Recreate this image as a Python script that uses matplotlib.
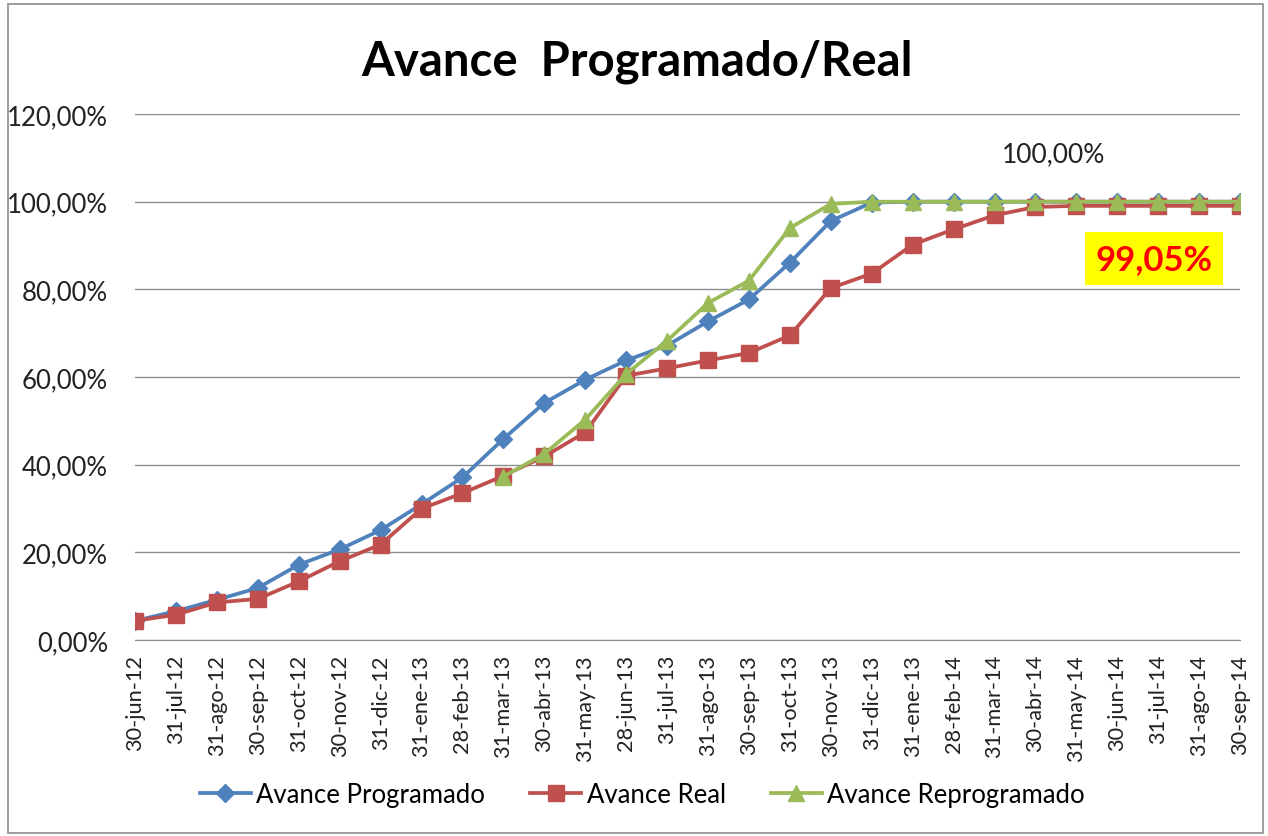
import numpy as np
import matplotlib
matplotlib.use("Agg")
import matplotlib.pyplot as plt
from matplotlib.patches import Rectangle
from matplotlib.ticker import FuncFormatter

fechas = ["30-jun-12", "31-jul-12", "31-ago-12", "30-sep-12", "31-oct-12", "30-nov-12",
          "31-dic-12", "31-ene-13", "28-feb-13", "31-mar-13", "30-abr-13", "31-may-13",
          "28-jun-13", "31-jul-13", "31-ago-13", "30-sep-13", "31-oct-13", "30-nov-13",
          "31-dic-13", "31-ene-13", "28-feb-14", "31-mar-14", "30-abr-14", "31-may-14",
          "30-jun-14", "31-jul-14", "31-ago-14", "30-sep-14"]

programado = [4.4, 6.6, 9.2, 11.9, 17.2, 20.7, 25.1, 31.0, 37.1, 45.9, 54.1, 59.4,
              63.8, 67.2, 72.7, 77.7, 86.1, 95.6, 99.8, 100, 100, 100, 100, 100,
              100, 100, 100, 100]
real = [4.4, 5.8, 8.6, 9.4, 13.4, 18.0, 21.8, 30.0, 33.5, 37.5, 41.9, 47.4,
        60.3, 62.0, 63.8, 65.5, 69.5, 80.3, 83.6, 90.2, 93.7, 96.9, 98.8, 99.05,
        99.05, 99.05, 99.05, 99.05]
# reprogramado empieza en 31-mar-13
reprog_inicio = 9
reprogramado = [37.3, 42.5, 50.3, 60.7, 68.3, 76.9, 82.0, 94.0, 99.5, 100, 100, 100,
                100, 100, 100, 100, 100, 100, 100]

azul = "#4F81BD"
rojo = "#C0504D"
verde = "#9BBB59"
fuente = "Lato"

fig = plt.figure(figsize=(12.68, 8.37), dpi=100)
ax = fig.add_axes([0.1065, 0.234, 0.8715, 0.6286])

x = np.arange(len(fechas))
ax.plot(x, np.array(programado) / 100, color=azul, lw=2.7, marker="D", ms=9,
        label="Avance Programado", zorder=3)
ax.plot(x, np.array(real) / 100, color=rojo, lw=2.7, marker="s", ms=11,
        label="Avance Real", zorder=4)
xr = x[reprog_inicio:]
ax.plot(xr, np.array(reprogramado) / 100, color=verde, lw=2.7, marker="^", ms=11,
        label="Avance Reprogramado", zorder=5)

ax.set_xlim(0, len(fechas) - 1)
ax.set_ylim(0, 1.2)
ax.set_yticks(np.arange(0, 1.21, 0.2))
ax.yaxis.set_major_formatter(FuncFormatter(lambda v, p: f"{v*100:.2f}%".replace(".", ",")))
ax.set_xticks(x)
ax.set_xticklabels(fechas, rotation=90, fontsize=15.7, family=fuente, color="#222222")
for t in ax.get_yticklabels():
    t.set_fontsize(18.5)
    t.set_family(fuente)
    t.set_color("#222222")
ax.tick_params(axis="x", length=0, pad=10)
ax.tick_params(axis="y", length=0, pad=19.5)
ax.grid(axis="y", color="#8c8c8c", lw=1)
ax.set_axisbelow(True)
for s in ["top", "right", "left"]:
    ax.spines[s].set_visible(False)
ax.spines["bottom"].set_color("#8c8c8c")

ax.text(22.45, 1.11, "100,00%", ha="center", va="center", fontsize=19,
        family=fuente, color="#222222")
ax.text(24.9, 0.87, "99,05%", ha="center", va="center", fontsize=25, fontweight="bold",
        family=fuente, color="#FF0000",
        bbox=dict(boxstyle="square,pad=0.3", fc="#FFFF00", ec="none"))

fig.text(0.502, 0.926, "Avance  Programado/Real", ha="center", va="center",
         fontsize=34, fontweight="bold", family=fuente, color="black")

ax.legend(loc="upper center", bbox_to_anchor=(0.459, -0.225), ncol=3, frameon=False,
          prop={"family": fuente, "size": 18.5}, handlelength=2.0, columnspacing=1.75,
          handletextpad=0.2)

fig.patches.append(Rectangle((0.006, 0.004), 0.99, 0.99, transform=fig.transFigure,
                             fill=False, ec="#8c8c8c", lw=1.2))

fig.savefig("out.png", dpi=100)
